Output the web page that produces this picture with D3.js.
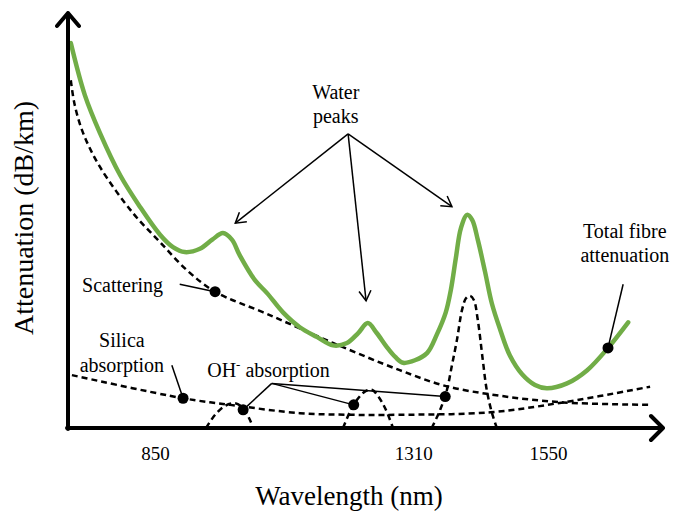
<!DOCTYPE html>
<html>
<head>
<meta charset="utf-8">
<script src="https://cdn.jsdelivr.net/npm/d3@7"></script>
<style>
  body { margin: 0; background: #fff; }
  text { font-family: "Liberation Serif", "Times New Roman", serif; fill: #000; }
</style>
</head>
<body>
<svg id="chart" width="673" height="516"></svg>
<script>
// Total fibre attenuation (green curve), arbitrary dB/km units
const totalWl = [700, 725, 752, 788, 823, 859, 882, 903, 930, 952, 971, 987, 1001, 1028, 1050,
  1078, 1108, 1139, 1167, 1192, 1212, 1229, 1245, 1263, 1278, 1292, 1313, 1335, 1352, 1368,
  1377, 1386, 1395, 1406, 1415, 1425, 1438, 1450, 1465, 1482, 1504, 1527, 1548, 1584, 1620, 1657, 1693];
const totalAtt = [4.66, 4.03, 3.57, 3.06, 2.68, 2.34, 2.19, 2.13, 2.17, 2.28, 2.36, 2.28, 2.09, 1.79, 1.63,
  1.40, 1.22, 1.10, 1.00, 1.03, 1.15, 1.27, 1.15, 0.98, 0.86, 0.79, 0.82, 0.91, 1.13, 1.40,
  1.67, 2.06, 2.42, 2.58, 2.52, 2.28, 1.89, 1.51, 1.19, 0.88, 0.65, 0.52, 0.48, 0.54, 0.70, 0.97, 1.28];

// Rayleigh scattering
const scatWl = [700, 707, 722, 752, 811, 859, 907, 957, 1050, 1167, 1286, 1367, 1465, 1577, 1732];
const scatAtt = [4.21, 3.91, 3.57, 3.16, 2.60, 2.25, 1.91, 1.65, 1.38, 1.03, 0.70, 0.51, 0.39, 0.31, 0.28];

// Silica absorption
const silicaWl = [702, 900, 984, 1108, 1197, 1286, 1447, 1577, 1732];
const silicaAtt = [0.64, 0.36, 0.28, 0.18, 0.16, 0.16, 0.19, 0.31, 0.50];

// OH- absorption peaks
const oh1Wl = [941, 957, 975, 993, 1007, 1019, 1025];
const oh1Att = [0, 0.16, 0.27, 0.30, 0.24, 0.10, 0];
const oh2Wl = [1185, 1197, 1212, 1226, 1237, 1247, 1260, 1274];
const oh2Att = [0, 0.19, 0.36, 0.45, 0.46, 0.39, 0.24, 0];
const oh3Wl = [1343, 1358, 1370, 1379, 1388, 1397, 1404, 1411, 1418, 1425, 1434, 1441, 1450, 1459];
const oh3Att = [0, 0.22, 0.46, 0.76, 1.07, 1.43, 1.57, 1.60, 1.55, 1.31, 0.82, 0.46, 0.19, 0];

// Tick labels on the wavelength axis
const tickWl = [850, 1310, 1550];

const svg = d3.select("#chart");

// Scales
const x = d3.scaleLinear().domain([695, 1755]).range([68, 663]);
const y = d3.scaleLinear().domain([0, 5]).range([428, 15]);

const zip = (a, b) => a.map((v, i) => [v, b[i]]);
const line = d3.line()
    .x(d => x(d[0]))
    .y(d => y(d[1]))
    .curve(d3.curveCatmullRom.alpha(0.5));

// Arrow marker for annotations
svg.append("defs").append("marker")
    .attr("id", "arrow")
    .attr("viewBox", "0 0 14 14")
    .attr("refX", 12).attr("refY", 7)
    .attr("markerWidth", 14).attr("markerHeight", 14)
    .attr("markerUnits", "userSpaceOnUse")
    .attr("orient", "auto")
    .append("path")
    .attr("d", "M2,1 L12,7 L2,13")
    .attr("fill", "none")
    .attr("stroke", "#000")
    .attr("stroke-width", 1.5);

// Dashed component curves
const dashed = [zip(scatWl, scatAtt), zip(silicaWl, silicaAtt),
                zip(oh1Wl, oh1Att), zip(oh2Wl, oh2Att), zip(oh3Wl, oh3Att)];
svg.selectAll(".comp")
    .data(dashed)
    .enter().append("path")
    .attr("class", "comp")
    .attr("d", line)
    .attr("fill", "none")
    .attr("stroke", "#000")
    .attr("stroke-width", 2.5)
    .attr("stroke-dasharray", "6,4");

// Total attenuation curve
svg.append("path")
    .attr("d", line(zip(totalWl, totalAtt)))
    .attr("fill", "none")
    .attr("stroke", "#71ad47")
    .attr("stroke-width", 4.5)
    .attr("stroke-linecap", "round");

// Axes (thick lines with open chevron heads)
const x0 = x.range()[0], x1 = x.range()[1];
const y0 = y.range()[0], y1 = y.range()[1];
const axisStyle = g => g.attr("fill", "none").attr("stroke", "#000")
    .attr("stroke-width", 4).attr("stroke-linejoin", "round").attr("stroke-linecap", "round");
svg.append("path").call(axisStyle)
    .attr("d", `M${x0},${y0 + 1}V${y1 - 2}M${x0 - 11},${y1 + 11}L${x0},${y1 - 2}L${x0 + 11},${y1 + 11}`);
svg.append("path").call(axisStyle)
    .attr("d", `M${x0 - 1},${y0}H${x1}M${x1 - 12},${y0 - 12}L${x1},${y0}L${x1 - 12},${y0 + 12}`);

// Tick labels
svg.append("g")
    .attr("transform", `translate(0,${y0})`)
    .call(d3.axisBottom(x).tickValues(tickWl).tickSize(0).tickPadding(19).tickFormat(d3.format("d")))
    .call(g => g.select(".domain").remove())
    .selectAll("text")
    .attr("font-family", "Liberation Serif")
    .attr("font-size", 19);

// Axis titles
svg.append("text")
    .attr("x", 349).attr("y", 505)
    .attr("text-anchor", "middle")
    .attr("font-size", 27)
    .text("Wavelength (nm)");
svg.append("text")
    .attr("transform", "translate(33,218) rotate(-90)")
    .attr("text-anchor", "middle")
    .attr("font-size", 28)
    .text("Attenuation (dB/km)");

// Annotations
const ann = svg.append("g").attr("font-size", 20);
const P = (wl, a) => [x(wl), y(a)];

// Water peaks
ann.append("text").attr("x", x(1172)).attr("y", y(3.98)).attr("text-anchor", "middle").text("Water");
ann.append("text").attr("x", x(1172)).attr("y", y(3.69)).attr("text-anchor", "middle").text("peaks");
const waterFrom = P(1194, 3.56);
const waterTo = [P(993, 2.48), P(1226, 1.54), P(1379, 2.68)];
ann.selectAll(".water")
    .data(waterTo)
    .enter().append("line")
    .attr("x1", waterFrom[0]).attr("y1", waterFrom[1])
    .attr("x2", d => d[0]).attr("y2", d => d[1])
    .attr("stroke", "#000").attr("stroke-width", 1.5)
    .attr("marker-end", "url(#arrow)");

// Leader lines to dots
const leaders = [
  { from: [894, 1.74], to: [957, 1.65] },      // scattering
  { from: [880, 0.76], to: [900, 0.36] },      // silica
  { from: [1058, 0.54], to: [1007, 0.22] },    // OH 1
  { from: [1058, 0.54], to: [1204, 0.28] },    // OH 2
  { from: [1058, 0.54], to: [1367, 0.38] },    // OH 3
  { from: [1684, 1.74], to: [1657, 0.97] }     // total
];
ann.selectAll(".leader")
    .data(leaders)
    .enter().append("line")
    .attr("x1", d => x(d.from[0])).attr("y1", d => y(d.from[1]))
    .attr("x2", d => x(d.to[0])).attr("y2", d => y(d.to[1]))
    .attr("stroke", "#000").attr("stroke-width", 1.5);
ann.selectAll(".dot")
    .data(leaders)
    .enter().append("circle")
    .attr("cx", d => x(d.to[0])).attr("cy", d => y(d.to[1]))
    .attr("r", 5.5)
    .attr("fill", "#000");

ann.append("text").attr("x", x(720)).attr("y", y(1.65)).text("Scattering");
ann.append("text").attr("x", x(791)).attr("y", y(0.98)).attr("text-anchor", "middle").text("Silica");
ann.append("text").attr("x", x(791)).attr("y", y(0.68)).attr("text-anchor", "middle").text("absorption");
const oh = ann.append("text").attr("x", x(943)).attr("y", y(0.62));
oh.append("tspan").text("OH");
oh.append("tspan").attr("dy", -8).attr("font-size", 13).text("-");
oh.append("tspan").attr("dy", 8).text(" absorption");
ann.append("text").attr("x", x(1687)).attr("y", y(2.30)).attr("text-anchor", "middle").text("Total fibre");
ann.append("text").attr("x", x(1687)).attr("y", y(2.01)).attr("text-anchor", "middle").text("attenuation");
</script>
</body>
</html>
